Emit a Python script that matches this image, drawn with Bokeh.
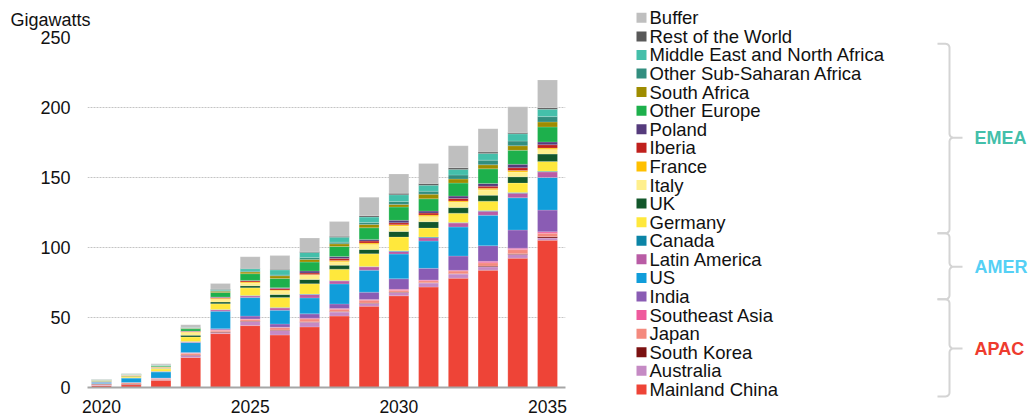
import numpy as np
from bokeh.plotting import figure
from bokeh.models import ColumnDataSource, Range1d, FixedTicker
from bokeh.layouts import row
from bokeh.embed import file_html
from bokeh.resources import INLINE
from bokeh.core.properties import value

# ---------------- data ----------------
years = list(range(2020, 2036))
x_ticks = [2020, 2025, 2030, 2035]
y_ticks = [0, 50, 100, 150, 200, 250]

mainland_china = [1.5, 2.0, 5.2, 21.4, 38.5, 44.2, 37.5, 43.3, 51.0, 58.1, 65.5, 71.7, 78.1, 83.8, 92.4, 105.2]
australia      = [0.2, 0.2, 0.3, 1.5, 0.7, 3.0, 3.3, 3.3, 2.9, 1.9, 2.4, 2.9, 2.9, 2.4, 2.6, 1.5]
south_korea    = [0.6, 0.3, 0.2, 0.3, 0.7, 0.3, 0.3, 0.3, 0.3, 0.3, 0.3, 0.3, 0.3, 0.5, 0.5, 1.0]
japan          = [0.3, 0.9, 0.8, 1.2, 1.0, 1.2, 1.7, 2.1, 1.7, 2.1, 1.2, 1.4, 1.9, 2.4, 3.0, 2.5]
southeast_asia = [0.1, 0.1, 0.1, 0.2, 0.3, 0.3, 0.3, 0.5, 0.5, 0.5, 0.7, 0.5, 0.5, 1.0, 1.0, 1.0]
india          = [0.1, 0.1, 0.2, 0.4, 0.8, 2.0, 2.3, 3.1, 3.3, 5.2, 7.6, 8.3, 10.2, 11.2, 13.0, 15.5]
us             = [1.0, 3.1, 4.3, 7.1, 12.5, 13.2, 9.8, 11.4, 14.3, 15.7, 17.6, 19.5, 20.7, 21.7, 23.0, 23.3]
latin_america  = [0.2, 0.2, 0.4, 0.5, 1.0, 1.2, 1.6, 2.4, 2.1, 2.4, 1.9, 2.4, 2.9, 2.9, 3.3, 4.0]
canada         = [0.1, 0.1, 0.1, 0.2, 0.3, 0.3, 0.3, 0.3, 0.3, 0.3, 0.5, 0.5, 0.3, 0.5, 0.5, 0.5]
germany        = [0.4, 1.1, 1.6, 3.3, 4.0, 5.5, 7.2, 7.4, 8.1, 9.0, 9.8, 6.4, 6.7, 6.7, 6.7, 7.0]
uk             = [0.2, 0.3, 0.4, 1.2, 1.3, 1.5, 2.2, 3.1, 2.9, 3.1, 4.0, 4.5, 4.0, 4.3, 4.5, 5.2]
italy          = [0.2, 0.3, 0.7, 2.0, 2.0, 2.0, 2.6, 2.9, 2.4, 3.6, 3.8, 3.8, 3.8, 3.8, 3.5, 3.3]
france         = [0.1, 0.1, 0.2, 0.5, 0.7, 0.6, 0.6, 0.7, 1.0, 1.0, 1.0, 1.0, 1.0, 1.2, 1.0, 1.0]
iberia         = [0.1, 0.1, 0.3, 0.3, 0.5, 0.9, 1.0, 1.0, 1.4, 1.4, 1.4, 1.4, 1.7, 1.4, 2.0, 2.4]
poland         = [0.05, 0.05, 0.1, 0.2, 0.3, 0.3, 0.6, 1.4, 1.4, 1.2, 1.7, 1.4, 1.7, 1.9, 2.4, 2.0]
other_europe   = [0.3, 0.4, 0.6, 1.6, 3.3, 4.8, 6.6, 6.4, 7.1, 8.3, 9.5, 8.8, 9.3, 10.5, 10.0, 10.7]
south_africa   = [0.1, 0.1, 0.3, 0.4, 0.8, 1.2, 1.9, 1.9, 1.9, 2.4, 1.9, 3.3, 2.9, 2.9, 3.3, 3.6]
other_ssa      = [0.05, 0.05, 0.1, 0.2, 0.5, 0.6, 0.6, 1.4, 1.2, 1.4, 2.1, 2.1, 2.9, 3.3, 3.3, 3.8]
mena           = [0.1, 0.1, 0.2, 0.3, 0.8, 1.7, 3.6, 3.6, 3.6, 3.8, 4.8, 4.3, 4.0, 4.8, 5.2, 5.2]
rest_of_world  = [0.05, 0.05, 0.1, 0.2, 0.3, 0.3, 0.4, 0.7, 0.7, 1.0, 1.0, 1.2, 1.2, 1.0, 1.0, 1.2]
buffer         = [0.3, 0.4, 0.8, 1.8, 4.0, 8.3, 9.8, 9.5, 10.5, 13.2, 13.8, 14.3, 15.7, 16.7, 18.3, 19.8]

# stacking order, bottom to top
series_names = ["Mainland China", "Australia", "South Korea", "Japan", "Southeast Asia", "India",
                "US", "Latin America", "Canada", "Germany", "UK", "Italy", "France", "Iberia",
                "Poland", "Other Europe", "South Africa", "Other Sub-Saharan Africa",
                "Middle East and North Africa", "Rest of the World", "Buffer"]
series_values = [mainland_china, australia, south_korea, japan, southeast_asia, india,
                 us, latin_america, canada, germany, uk, italy, france, iberia,
                 poland, other_europe, south_africa, other_ssa, mena, rest_of_world, buffer]
series_colors = ["#EE4437", "#C58AC4", "#7B1111", "#F48A7E", "#EF5A9D", "#8A5CB4",
                 "#109DDA", "#B95CA5", "#0B84A6", "#FFE83C", "#12572B", "#FFEF8C",
                 "#FFC000", "#C0201D", "#553B7C", "#1DB04C", "#9E8C00", "#328E7F",
                 "#44BFAA", "#595959", "#BFBFBF"]

group_labels = ["EMEA", "AMER", "APAC"]
group_colors = ["#44BFAA", "#55D0F5", "#EE3B2E"]
# brace spans in legend-row units (top, bottom, tip)
group_spans = [(1.4, 11.6, 6.45), (11.6, 15.15, 13.4), (15.15, 20.38, 17.8)]

FONT = "Liberation Sans"
TXT = "#111111"

# ---------------- chart ----------------
data = {"year": years}
for n, v in zip(series_names, series_values):
    data[n] = v
source = ColumnDataSource(data)

p = figure(width=600, height=419,
           x_range=Range1d(2019.529, 2035.605), y_range=Range1d(0, 250),
           output_backend="svg", toolbar_location=None,
           min_border_left=87, min_border_right=35, min_border_top=37, min_border_bottom=32)
p.frame_align = False
p.outline_line_color = None
p.background_fill_color = "white"
p.border_fill_color = "white"

p.vbar_stack(series_names, x="year", width=0.67, color=series_colors, source=source,
             line_color="white", line_width=0.4, line_alpha=0.45)

p.xgrid.visible = False
p.ygrid.ticker = FixedTicker(ticks=y_ticks)
p.ygrid.grid_line_color = "#C4C4C4"
p.ygrid.grid_line_dash = "2 1"
p.ygrid.grid_line_width = 1

p.yaxis.ticker = FixedTicker(ticks=y_ticks)
p.yaxis.axis_line_color = None
p.yaxis.major_tick_line_color = None
p.yaxis.minor_tick_line_color = None
p.yaxis.major_tick_out = 0
p.yaxis.major_tick_in = 0
p.yaxis.major_label_standoff = 17
p.yaxis.major_label_text_font = FONT
p.yaxis.major_label_text_font_size = "18px"
p.yaxis.major_label_text_color = TXT

p.xaxis.ticker = FixedTicker(ticks=x_ticks)
p.xaxis.axis_line_color = "#A6A6A6"
p.xaxis.axis_line_width = 2
p.xaxis.major_tick_line_color = None
p.xaxis.minor_tick_line_color = None
p.xaxis.major_tick_out = 0
p.xaxis.major_tick_in = 0
p.xaxis.major_label_standoff = 12
p.xaxis.major_label_text_font = FONT
p.xaxis.major_label_text_font_size = "17.5px"
p.xaxis.major_label_text_color = TXT

p.title.text = "Gigawatts"
p.title.align = "left"
p.title.offset = -77
p.title.standoff = 15
p.title.text_font = FONT
p.title.text_font_size = "18px"
p.title.text_font_style = "normal"
p.title.text_color = TXT

# ---------------- legend + region braces ----------------
PX = 18.58   # px per legend row
ROW0 = 17.3  # px of first row centre
H2 = 419
p2 = figure(width=430, height=H2, x_range=Range1d(600, 1030),
            y_range=Range1d((H2 - ROW0) / PX, -ROW0 / PX),
            output_backend="svg", toolbar_location=None,
            x_axis_type=None, y_axis_type=None, min_border=0)
p2.frame_align = False
p2.outline_line_color = None
p2.xgrid.visible = False
p2.ygrid.visible = False

leg_names = series_names[::-1]
leg_colors = series_colors[::-1]
src2 = ColumnDataSource(dict(name=leg_names, color=leg_colors, row=list(range(len(leg_names)))))
p2.scatter(x=641, y="row", marker="square", size=10, fill_color="color", line_color=None, source=src2)
p2.text(x=649, y="row", text="name", source=src2, text_font=value(FONT), text_font_size="18.5px",
        text_baseline="middle", text_align="left", text_color=TXT)


def brace(y0, y1, ym, xv=949.0, xe=937.0, xt=962.0, r=4.0):
    Y0, Y1, YM = y0 * PX, y1 * PX, ym * PX
    t = np.linspace(0, np.pi / 2, 8)
    xs, ys = [xe], [Y0]
    cx, cy = xv - r, Y0 + r
    xs += list(cx + r * np.sin(t)); ys += list(cy - r * np.cos(t))
    cx, cy = xv + r, YM - r
    xs += list(cx - r * np.cos(t)); ys += list(cy + r * np.sin(t))
    xs += [xt]; ys += [YM]
    cx, cy = xv + r, YM + r
    xs += list(cx - r * np.sin(t)); ys += list(cy - r * np.cos(t))
    cx, cy = xv - r, Y1 - r
    xs += list(cx + r * np.cos(t)); ys += list(cy + r * np.sin(t))
    xs += [xe]; ys += [Y1]
    return xs, [y / PX for y in ys]


for (y0, y1, ym) in group_spans:
    bx, by = brace(y0, y1, ym)
    p2.line(bx, by, line_color="#D4D4D4", line_width=2)

p2.text(x=[974] * 3, y=[s[2] for s in group_spans], text=group_labels, text_color=group_colors,
        text_font=value(FONT), text_font_size="18px", text_font_style="bold",
        text_baseline="middle", text_align="left")

layout = row(p, p2)
open("out.html", "w").write(file_html(layout, INLINE))
